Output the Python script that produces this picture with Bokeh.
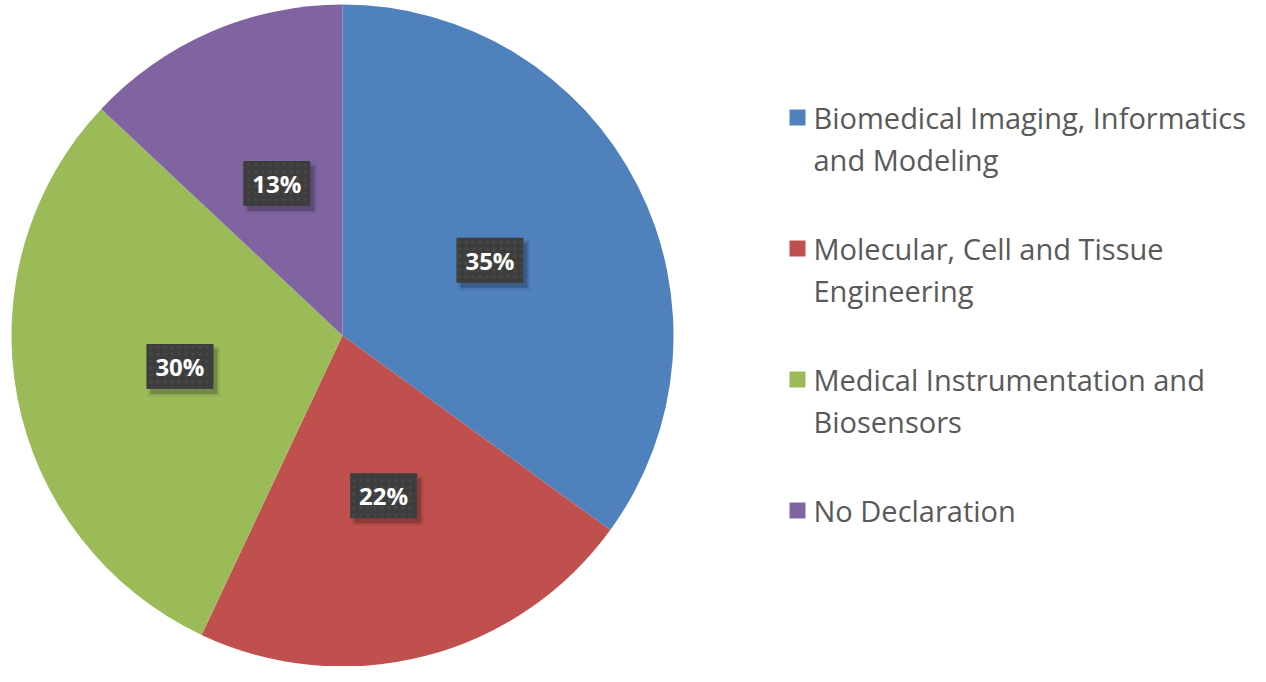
import math
import textwrap
from bokeh.plotting import figure
from bokeh.models import Range1d, ColumnDataSource
from bokeh.embed import file_html
from bokeh.resources import INLINE
from bokeh.core.properties import value

# ---- data ----
categories = [
    "Biomedical Imaging, Informatics and Modeling",
    "Molecular, Cell and Tissue Engineering",
    "Medical Instrumentation and Biosensors",
    "No Declaration",
]
percents = [35, 22, 30, 13]
colors = ["#4F81BD", "#C0504D", "#9BBB59", "#8064A2"]

# ---- layout (figure pixel coordinates; data y = 682 - pixel y) ----
W, H = 1250, 666
TOP = 682
cx, cy_px, R = 342, 335, 331
cy = TOP - cy_px

p = figure(width=W, height=H, x_range=Range1d(0, W), y_range=Range1d(TOP - H, TOP),
           output_backend="svg", toolbar_location=None, min_border=0)
p.axis.visible = False
p.grid.visible = False
p.outline_line_color = None
p.background_fill_color = "white"
p.border_fill_color = "white"

total = float(sum(percents))
starts, ends, lx, ly, labels = [], [], [], [], []
cum = 0.0
for v in percents:
    f0 = cum / total
    cum += v
    f1 = cum / total
    starts.append(math.pi / 2 - f1 * 2 * math.pi)
    ends.append(math.pi / 2 - f0 * 2 * math.pi)
    mid = math.pi / 2 - (f0 + f1) / 2 * 2 * math.pi
    lx.append(cx + 0.5 * R * math.cos(mid))
    ly.append(cy + 0.5 * R * math.sin(mid))
    labels.append(f"{v}%")

src = ColumnDataSource(dict(start=starts, end=ends, color=colors))
p.wedge(x=cx, y=cy, radius=R, start_angle="start", end_angle="end", direction="anticlock",
        fill_color="color", line_color=None, source=src)

lsrc = ColumnDataSource(dict(x=lx, y=ly, sx=[x + 4 for x in lx], sy=[y - 5 for y in ly], text=labels))
# soft shadows
p.rect(x="sx", y="sy", width=72, height=50, fill_color="black", fill_alpha=0.08, line_color=None, source=lsrc)
p.rect(x="sx", y="sy", width=67, height=45, fill_color="black", fill_alpha=0.20, line_color=None, source=lsrc)
p.rect(x="x", y="y", width=67, height=45, fill_color="#3D3D3D", line_color=None,
       hatch_pattern=".", hatch_color="#474747", hatch_scale=7, source=lsrc)
p.text(x="x", y="y", text="text", text_align="center", text_baseline="middle",
       text_color="white", text_font=value("Open Sans"), text_font_style="bold",
       text_font_size="24px", source=lsrc)

# ---- legend ----
sq_x, tx_x = 797, 813
first_y, item_gap, line_gap = 117, 131, 42
mx, my, txs, tys, tts = [], [], [], [], []
for i, name in enumerate(categories):
    y0 = first_y + i * item_gap
    mx.append(sq_x)
    my.append(TOP - y0)
    for j, line in enumerate(textwrap.wrap(name, width=31)):
        txs.append(tx_x)
        tys.append(TOP - (y0 + j * line_gap))
        tts.append(line)

p.scatter(x=mx, y=my, marker="square", size=16, fill_color=colors, line_color=None)
p.text(x=txs, y=tys, text=tts, text_align="left", text_baseline="middle",
       text_color="#595959", text_font=value("Open Sans"), text_font_size="29px")

open("out.html", "w").write(file_html(p, INLINE))
